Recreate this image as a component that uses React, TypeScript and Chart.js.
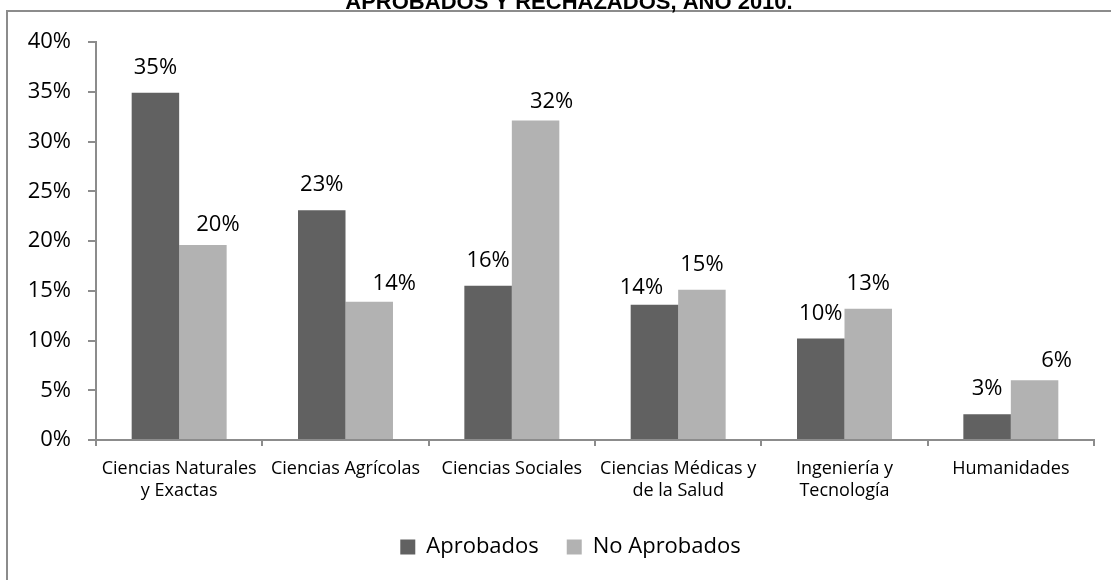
import React, { useEffect, useRef } from "react";
import { Chart, registerables } from "chart.js";

Chart.register(...registerables);

// ---- data ----
const categories: string[][] = [
  ["Ciencias Naturales", "y Exactas"],
  ["Ciencias Agrícolas"],
  ["Ciencias Sociales"],
  ["Ciencias Médicas y", "de la Salud"],
  ["Ingeniería y", "Tecnología"],
  ["Humanidades"],
];
const seriesNames = ["Aprobados", "No Aprobados"];
const aprobados = [34.9, 23.1, 15.5, 13.6, 10.2, 2.6];
const noAprobados = [19.6, 13.9, 32.1, 15.1, 13.2, 6.0];
const yTickMin = 0;
const yTickMax = 40;
const yTickStep = 5;
const titleText = "APROBADOS Y RECHAZADOS, AÑO 2010.";

// ---- styling ----
const seriesColors = ["#616161", "#b2b2b2"];
const axisColor = "#8c8c8c";
const FONT = "'Open Sans', 'Noto Sans', sans-serif";
// manual label nudges [dx, dy] as placed in the original (style only)
const labelNudges: number[][][] = [
  [[0, 0], [0, 0], [0, 0], [-13, 8], [0, 0], [0, 0]],
  [[15, 5], [25, 7], [16, 6], [0, 0], [0, 0], [22, 6]],
];

const framePlugin = {
  id: "frame",
  afterLayout(chart: any) {
    // the legend in the original is centred on the whole frame, not the plot
    if (chart.legend) {
      chart.legend.left = 47;
      chart.legend.width = chart.legend.right - 47;
    }
  },
  beforeDraw(chart: any) {
    const ctx = chart.ctx;
    ctx.save();
    ctx.fillStyle = "#ffffff";
    ctx.fillRect(0, 0, chart.width, chart.height);
    ctx.strokeStyle = axisColor;
    ctx.lineWidth = 2;
    ctx.beginPath();
    ctx.moveTo(7, chart.height + 5);
    ctx.lineTo(7, 11);
    ctx.lineTo(chart.width + 5, 11);
    ctx.stroke();
    ctx.fillStyle = "#000";
    ctx.font = "bold 22px 'Liberation Sans', Arial, sans-serif";
    ctx.textAlign = "center";
    ctx.textBaseline = "alphabetic";
    ctx.fillText(titleText, 569, 9);
    ctx.restore();
  },
  afterDatasetsDraw(chart: any) {
    const ctx = chart.ctx;
    ctx.save();
    ctx.fillStyle = "#000";
    ctx.font = `22px ${FONT}`;
    ctx.textAlign = "center";
    ctx.textBaseline = "alphabetic";
    chart.data.datasets.forEach((ds: any, di: number) => {
      const meta = chart.getDatasetMeta(di);
      meta.data.forEach((bar: any, i: number) => {
        const v = ds.data[i];
        const [dx, dy] = labelNudges[di][i];
        ctx.fillText(Math.round(v) + "%", bar.x + dx, bar.y - 19 + dy);
      });
    });
    ctx.restore();
  },
};

export default function App() {
  const ref = useRef<HTMLCanvasElement | null>(null);
  useEffect(() => {
    if (!ref.current) return;
    const chart = new Chart(ref.current, {
      type: "bar",
      data: {
        labels: categories,
        datasets: [
          {
            label: seriesNames[0],
            data: aprobados,
            backgroundColor: seriesColors[0],
            borderWidth: 0,
            categoryPercentage: 0.571,
            barPercentage: 1,
          },
          {
            label: seriesNames[1],
            data: noAprobados,
            backgroundColor: seriesColors[1],
            borderWidth: 0,
            categoryPercentage: 0.571,
            barPercentage: 1,
          },
        ],
      },
      options: {
        responsive: false,
        maintainAspectRatio: false,
        animation: false,
        devicePixelRatio: 1,
        layout: { padding: { left: 0, right: 17, top: 42, bottom: 12 } },
        plugins: {
          title: { display: false },
          tooltip: { enabled: false },
          legend: {
            position: "bottom",
            labels: {
              color: "#000",
              font: { family: FONT, size: 22 },
              boxWidth: 15,
              boxHeight: 15,
              padding: 28,
            },
          },
        },
        scales: {
          x: {
            grid: {
              display: true,
              drawOnChartArea: false,
              drawTicks: true,
              tickLength: 6,
              offset: true,
              color: axisColor,
              lineWidth: 2,
            },
            border: { display: true, color: axisColor, width: 2 },
            ticks: {
              color: "#000",
              font: { family: FONT, size: 18, lineHeight: "22px" },
              padding: 12,
              maxRotation: 0,
              autoSkip: false,
            },
            afterFit(scale: any) {
              scale.height = 68;
            },
          },
          y: {
            min: yTickMin,
            max: yTickMax,
            grid: {
              display: true,
              drawOnChartArea: false,
              drawTicks: true,
              tickLength: 8,
              color: axisColor,
              lineWidth: 2,
            },
            border: { display: true, color: axisColor, width: 2 },
            ticks: {
              stepSize: yTickStep,
              color: "#000",
              font: { family: FONT, size: 22 },
              padding: 17,
              callback: (v: any) => v + "%",
            },
            afterFit(scale: any) {
              scale.width = 96;
            },
          },
        },
      },
      plugins: [framePlugin],
    });
    return () => chart.destroy();
  }, []);
  return (
    <div
      style={{
        position: "fixed",
        left: 0,
        top: 0,
        width: 1111,
        height: 580,
        background: "#fff",
        overflow: "hidden",
      }}
    >
      <canvas ref={ref} width={1111} height={580} style={{ display: "block" }} />
    </div>
  );
}
